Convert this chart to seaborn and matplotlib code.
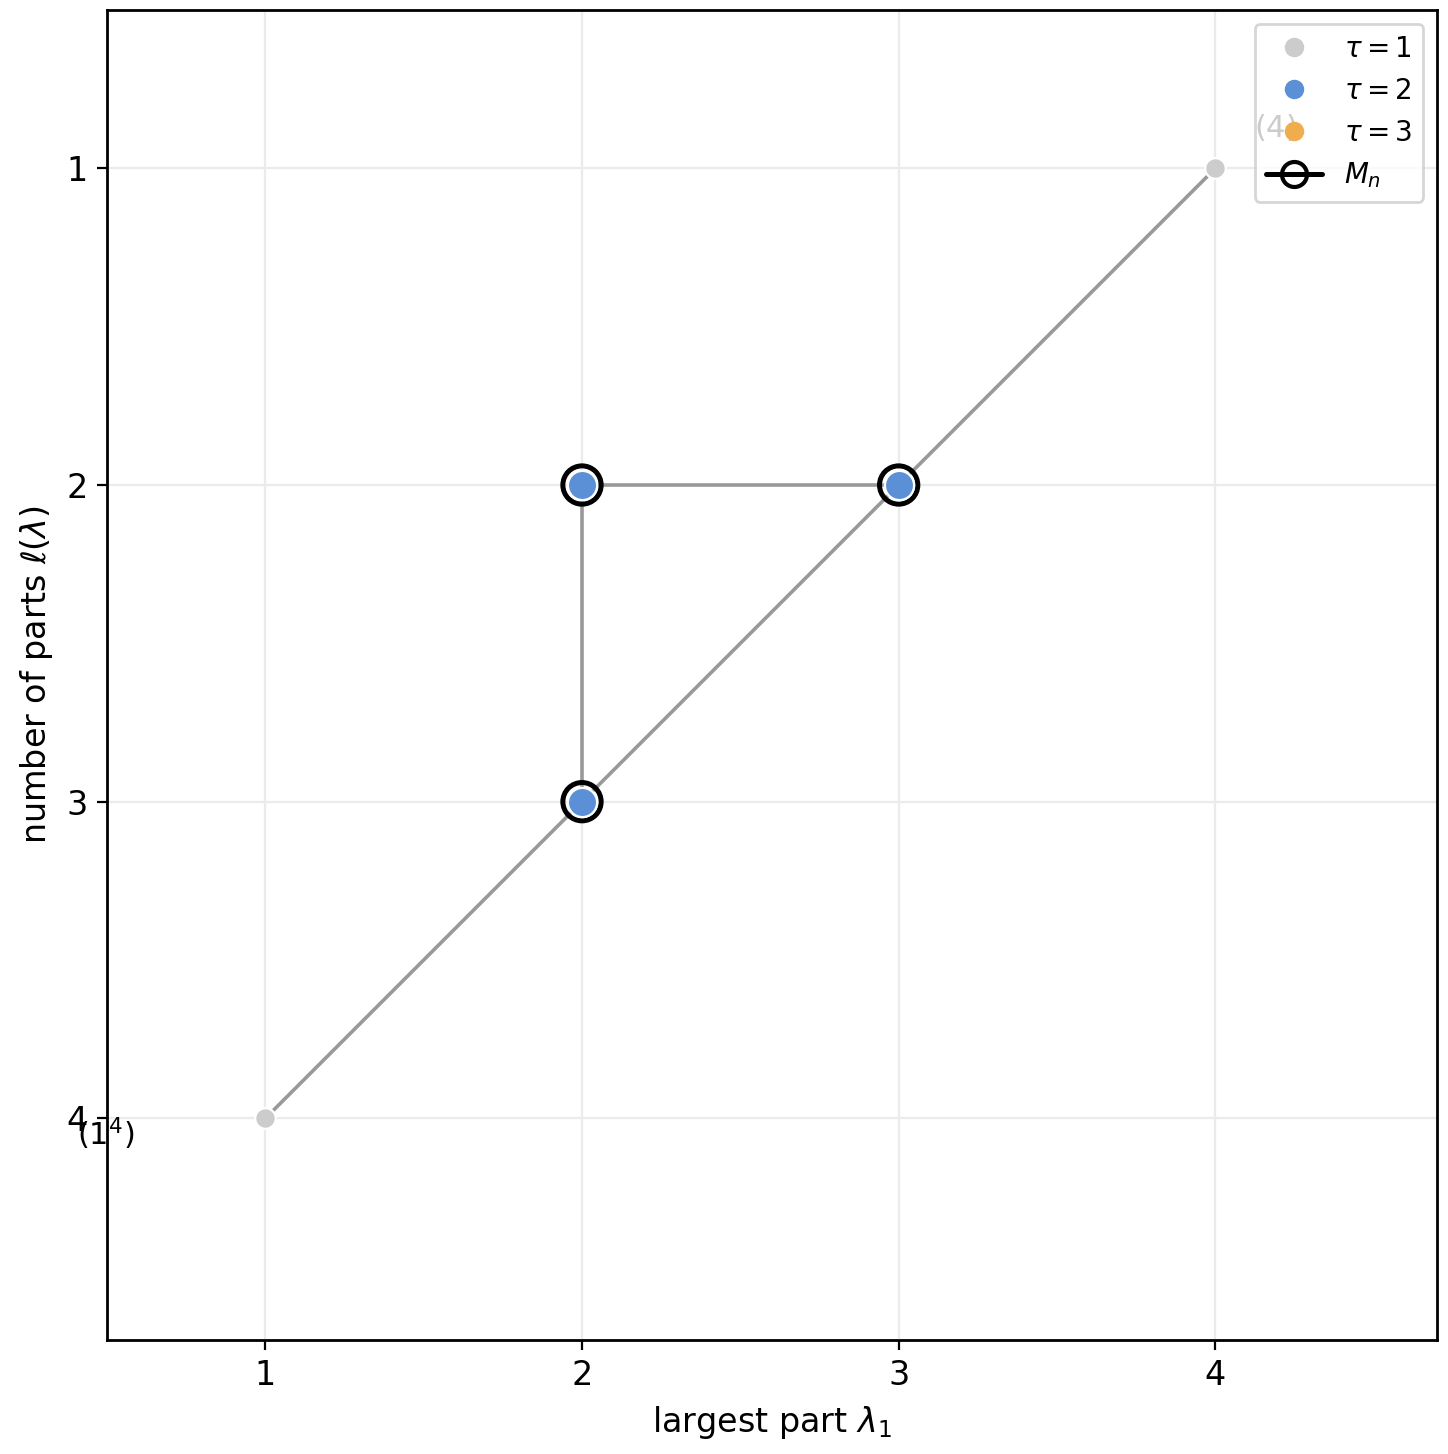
import numpy as np
import pandas as pd
import seaborn as sns
import matplotlib
matplotlib.use("Agg")
from matplotlib import pyplot as plt
from matplotlib.lines import Line2D

# partitions of n = 4
parts = ["(4)", "(3,1)", "(2,2)", "(2,1,1)", "(1,1,1,1)"]
largest = [4, 3, 2, 2, 1]
nparts = [1, 2, 2, 3, 4]
tau = [1, 2, 2, 2, 1]
in_mn = [False, True, True, True, False]

# edges of the poset (index pairs)
edges = [(4, 3), (3, 2), (3, 1), (2, 1), (1, 0)]

# labelled extremes
label_text = [r"$(1^4)$", r"$(4)$"]
label_x = [0.495, 4.19]
label_y = [4.05, 0.87]

tau_colors = {1: "#cccccc", 2: "#5b8fd6", 3: "#f0ad4e"}

df = pd.DataFrame({"part": parts, "x": largest, "y": nparts, "tau": tau, "mn": in_mn})

sns.set_style("whitegrid")
plt.rcParams['font.family'] = ['DejaVu Sans']
plt.rcParams['text.color'] = 'black'
plt.rcParams['axes.labelcolor'] = 'black'
plt.rcParams['xtick.color'] = 'black'
plt.rcParams['ytick.color'] = 'black'

fig, ax = plt.subplots(figsize=(7.24, 7.27), dpi=200)
fig.subplots_adjust(left=0.0739, right=0.9924, top=0.9931, bottom=0.0784)

for a, b in edges:
    ax.plot([largest[a], largest[b]], [nparts[a], nparts[b]], color="#999999", lw=1.3, zorder=1)

mn = df[df["mn"]]
ax.scatter(mn["x"], mn["y"], s=190, facecolors="none", edgecolors="black", linewidths=1.8, zorder=2)

df1 = df[df["tau"] == 1]
sns.scatterplot(data=df1, x="x", y="y", color=tau_colors[1], s=55, edgecolor="white", linewidth=0.8,
                ax=ax, zorder=3, legend=False)
df2 = df[df["tau"] == 2]
sns.scatterplot(data=df2, x="x", y="y", color=tau_colors[2], s=110, edgecolor="white", linewidth=0.8,
                ax=ax, zorder=3, legend=False)

for t, x, y in zip(label_text, label_x, label_y):
    ax.text(x, y, t, ha="center", va="center", fontsize=11, zorder=4)

ax.set_xlim(0.5, 4.7)
ax.set_ylim(4.7, 0.5)
ax.set_xticks([1, 2, 3, 4])
ax.set_yticks([1, 2, 3, 4])
ax.tick_params(axis="both", labelsize=12, length=3.5, width=0.8, color="black", bottom=True, left=True)
ax.grid(True, color="#ebebeb", lw=0.8)
for sp in ax.spines.values():
    sp.set_color("black")
    sp.set_linewidth(1.0)

ax.set_xlabel(r"largest part $\lambda_1$", fontsize=12)
ax.set_ylabel(r"number of parts $\ell(\lambda)$", fontsize=12)

handles = [
    Line2D([], [], ls="none", marker="o", color=tau_colors[1], markersize=6, label=r"$\tau=1$"),
    Line2D([], [], ls="none", marker="o", color=tau_colors[2], markersize=6, label=r"$\tau=2$"),
    Line2D([], [], ls="none", marker="o", color=tau_colors[3], markersize=6, label=r"$\tau=3$"),
    Line2D([], [], color="black", lw=1.8, marker="o", markerfacecolor="none", markeredgecolor="black",
           markersize=9, markeredgewidth=1.5, label=r"$M_n$"),
]
ax.legend(handles=handles, loc="upper right", fontsize=10, frameon=True)

plt.savefig("out.png", dpi=200)
